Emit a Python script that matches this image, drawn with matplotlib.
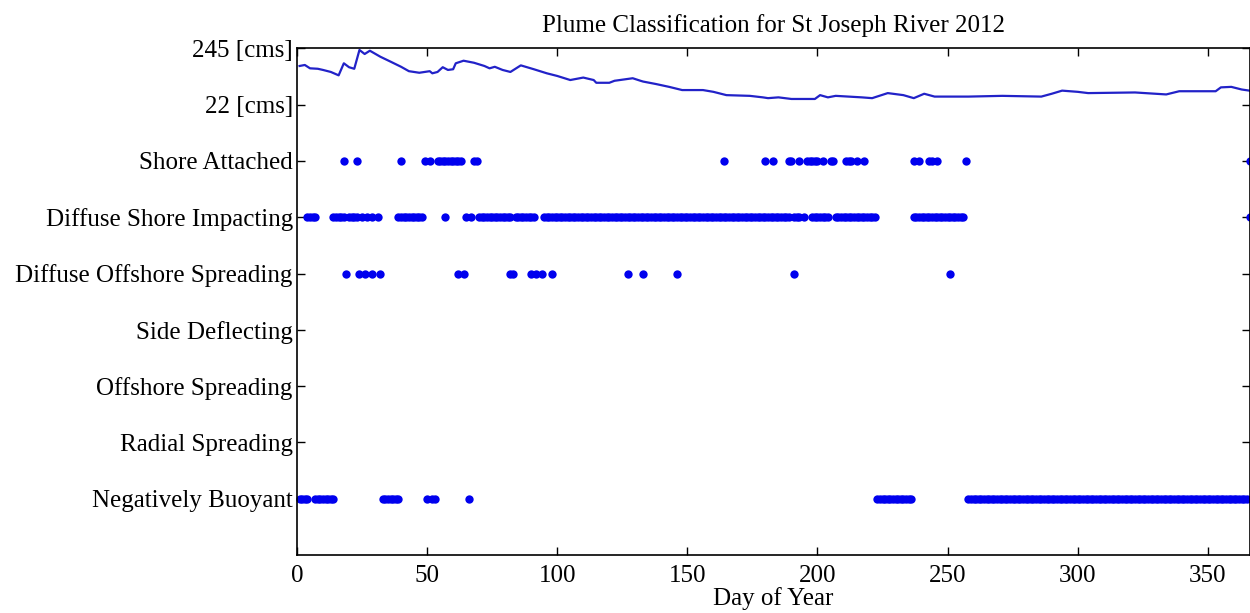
import numpy as np
import matplotlib
matplotlib.use('Agg')
from matplotlib import pyplot as plt

# plume class rows, bottom to top, then the two flow reference ticks
categories = ['Negatively Buoyant', 'Radial Spreading', 'Offshore Spreading',
              'Side Deflecting', 'Diffuse Offshore Spreading',
              'Diffuse Shore Impacting', 'Shore Attached']
flow_ticks = [22, 245]

# days of year on which each class was observed
shore_attached = [18, 23, 40, 49, 51, 54, 55, 56, 57, 58, 59, 60, 61, 62, 63,
                  68, 69, 164, 180, 183, 189, 190, 193, 196, 197, 198, 199,
                  200, 202, 205, 206, 211, 212, 213, 215, 218, 237, 239, 243,
                  244, 246, 257, 366]
diffuse_shore = ([4, 5, 6, 7, 14, 15, 16, 17, 18, 20, 21, 22, 23, 25, 27, 29,
                  31, 39, 40, 41, 42, 43, 44, 45, 46, 47, 48, 57, 65, 67]
                 + list(range(70, 83)) + list(range(84, 92))
                 + list(range(95, 190)) + [191, 192, 193, 195]
                 + list(range(198, 205)) + list(range(207, 223))
                 + list(range(237, 257)) + [366])
diffuse_offshore = [19, 24, 26, 29, 32, 62, 64, 82, 83, 90, 92, 94, 98, 127,
                    133, 146, 191, 251]
side_deflecting = []
offshore_spreading = []
radial_spreading = []
negatively_buoyant = ([1, 2, 3, 4] + list(range(7, 15)) + list(range(33, 40))
                      + [50, 52, 53, 66] + list(range(223, 237))
                      + list(range(258, 366)))

# river discharge [cms]
flow_day = [1, 3, 5, 8, 10, 13, 16, 18, 20, 22, 24, 26, 28, 32, 36, 40, 43,
            47, 51, 52, 54, 56, 58, 60, 61, 64, 68, 72, 74, 76, 79, 82, 86,
            91, 96, 100, 105, 110, 114, 115, 120, 122, 129, 132, 133, 138,
            143, 148, 156, 160, 165, 174, 179, 181, 185, 190, 199, 201, 204,
            207, 217, 221, 227, 233, 237, 241, 245, 258, 271, 286, 290, 294,
            300, 304, 322, 334, 339, 353, 355, 359, 363, 366]
flow_cms = [115, 120, 104, 102, 97, 89, 77, 129, 109, 102, 228, 192, 221, 171,
            138, 111, 92, 86, 92, 84, 89, 109, 97, 100, 129, 144, 132, 115,
            104, 111, 97, 89, 118, 100, 84, 75, 63, 70, 63, 56, 56, 61, 68,
            61, 59, 53, 47, 41, 41, 38, 33, 32, 30, 29, 30, 28, 28, 33, 30,
            32, 30, 29, 36, 33, 29, 35, 31, 31, 32, 31, 35, 40, 38, 36, 37,
            34, 39, 39, 46, 47, 42, 40]

plt.rcParams['font.family'] = 'Liberation Serif'

fig = plt.figure(figsize=(12.5, 6.13), dpi=100)
ax = fig.add_axes([0.2376, 0.0946, 0.7620, 0.8266])

# flow drawn on a log scale between the 22 and 245 cms ticks
lo, hi = np.log(flow_ticks[0]), np.log(flow_ticks[1])
flow_y = len(categories) + 1 + (np.log(flow_cms) - lo) / (hi - lo)
ax.plot(flow_day, flow_y, color='#2222c8', linewidth=1.6)

rows = [negatively_buoyant, radial_spreading, offshore_spreading,
        side_deflecting, diffuse_offshore, diffuse_shore, shore_attached]
for i, days in enumerate(rows):
    ax.plot(days, [i + 1] * len(days), 'o', color='#0000ee',
            markersize=6, markeredgewidth=0, clip_on=False)

ax.set_xlim(0, 366)
ax.set_ylim(0, len(categories) + 2)
ax.set_yticks(range(1, len(categories) + 3))
ax.set_yticklabels(categories + [f'{q} [cms]' for q in flow_ticks])
ax.set_xticks(range(0, 351, 50))
ax.tick_params(direction='in', length=6, width=1, labelsize=18,
               top=True, right=True)
ax.tick_params(axis='y', pad=3)
ax.tick_params(axis='x', pad=7)
for s in ax.spines.values():
    s.set_linewidth(1.2)

ax.set_xlabel('Day of Year', fontsize=18, labelpad=0)
ax.set_title('Plume Classification for St Joseph River 2012', fontsize=18,
             pad=12)

plt.savefig('out.png', dpi=100)
